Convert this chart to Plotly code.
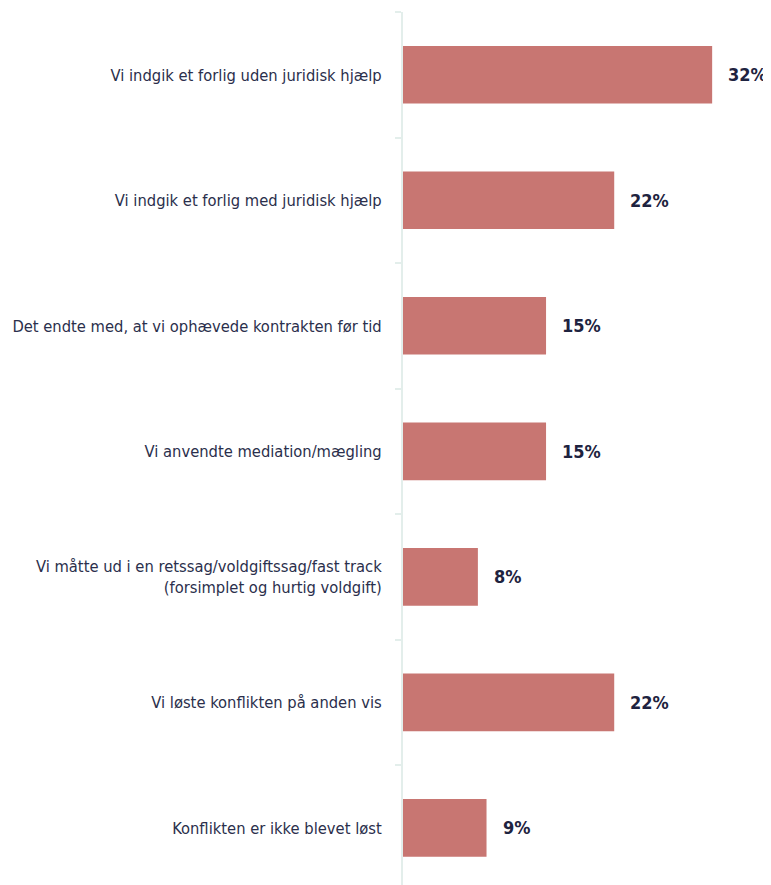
import plotly.graph_objects as go

categories = [
    "Vi indgik et forlig uden juridisk hjælp",
    "Vi indgik et forlig med juridisk hjælp",
    "Det endte med, at vi ophævede kontrakten før tid",
    "Vi anvendte mediation/mægling",
    "Vi måtte ud i en retssag/voldgiftssag/fast track<br>(forsimplet og hurtig voldgift)",
    "Vi løste konflikten på anden vis",
    "Konflikten er ikke blevet løst",
]
values = [32.2, 22.0, 14.9, 14.9, 7.8, 22.0, 8.7]
labels = ["32%", "22%", "15%", "15%", "8%", "22%", "9%"]

bar_color = "#C87672"
text_color = "#1E2340"
font_family = "DejaVu Sans Condensed, Liberation Sans Narrow, sans-serif"

fig = go.Figure()
fig.add_trace(go.Bar(
    x=values, y=categories, orientation="h",
    marker=dict(color=bar_color, line=dict(width=0)),
    width=0.46, hoverinfo="skip",
))

# value labels to the right of each bar
for v, c, t in zip(values, categories, labels):
    fig.add_annotation(x=v, y=c, text="<b>" + t + "</b>", showarrow=False,
                       xanchor="left", xshift=14,
                       font=dict(family=font_family, size=18, color=text_color))

fig.update_layout(
    width=763, height=877,
    margin=dict(l=395, r=0, t=4, b=0),
    paper_bgcolor="white", plot_bgcolor="white",
    showlegend=False,
    font=dict(family=font_family, size=16.4, color="#2B2F4C"),
)
fig.update_xaxes(range=[0, 38.33], visible=False)
fig.update_yaxes(
    type="category", range=[6.456, -0.5], automargin=False,
    tickson="boundaries", ticks="outside", ticklen=6, tickwidth=2,
    tickcolor="#E3EEEB", showline=True, linecolor="#E3EEEB", linewidth=2,
    showgrid=False, ticklabelstandoff=16,
)

fig.write_html("out.html")
